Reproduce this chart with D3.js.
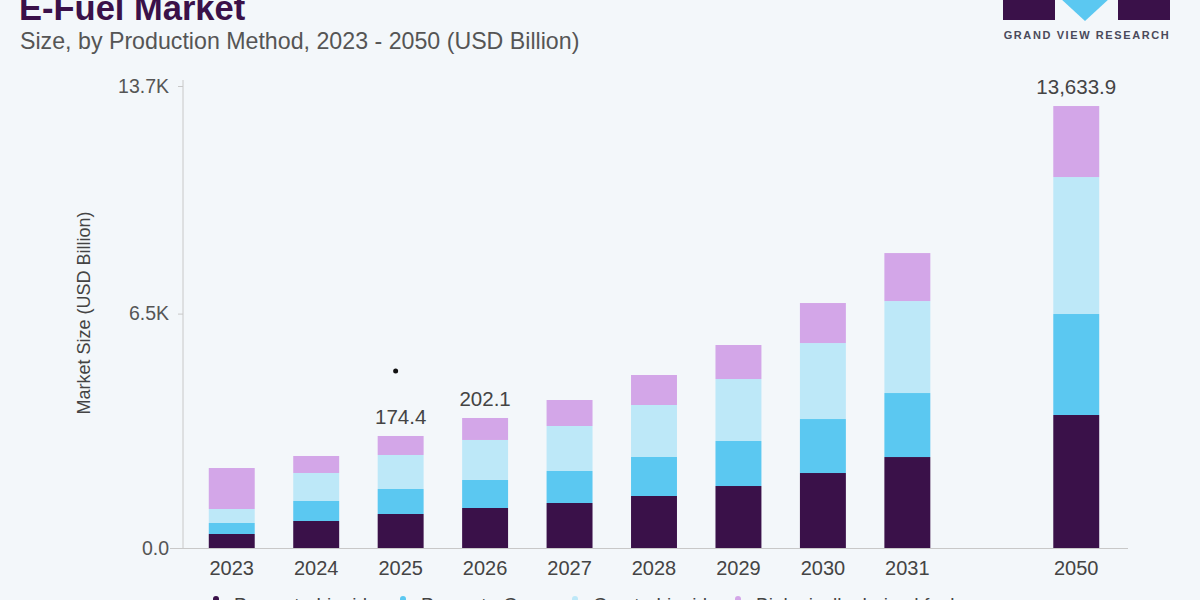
<!DOCTYPE html>
<html>
<head>
<meta charset="utf-8">
<script src="https://cdn.jsdelivr.net/npm/d3@7"></script>
<style>
  html, body { margin: 0; padding: 0; background: #f3f7fa; }
  svg { display: block; font-family: "Liberation Sans", Arial, sans-serif; }
</style>
</head>
<body>
<div id="chart"></div>
<script>
// data
const years = ['2023', '2024', '2025', '2026', '2027', '2028', '2029', '2030', '2031', '2050'];
const seriesNames = ['Power-to-Liquid', 'Power-to-Gas', 'Gas-to-Liquid', 'Biologically derived fuels'];
const powerToLiquid = [432, 833, 1049, 1234, 1388, 1604, 1912, 2313, 2806, 4102];
const powerToGas    = [339, 617, 771, 864, 987, 1203, 1388, 1665, 1974, 3115];
const gasToLiquid   = [432, 864, 1049, 1234, 1388, 1604, 1912, 2344, 2837, 4225];
const bioFuels      = [1264, 524, 586, 678, 802, 925, 1049, 1234, 1480, 2190];
const valueLabels = [{ year: '2025', text: '174.4' }, { year: '2026', text: '202.1' }, { year: '2050', text: '13,633.9' }];
const tickValues = [0, 7230, 14250];
const tickLabels = ['0.0', '6.5K', '13.7K'];
const colors = ['#3a1149', '#5bc8f1', '#bde8f8', '#d3a6e8'];

const width = 1200, height = 600;
const svg = d3.select('#chart').append('svg')
  .attr('width', width)
  .attr('height', height);

// slot domain with an empty gap before 2050
const slots = years.slice(0, 9).concat(['gap'], years.slice(9));

const xScale = d3.scaleBand()
  .domain(slots)
  .range([175, 1133])
  .paddingInner(0.456)
  .paddingOuter(0.4);

const yScale = d3.scaleLinear()
  .domain([0, 14250])
  .range([548, 86]);

// stacked data
const table = years.map((y, i) => ({
  year: y,
  'Power-to-Liquid': powerToLiquid[i],
  'Power-to-Gas': powerToGas[i],
  'Gas-to-Liquid': gasToLiquid[i],
  'Biologically derived fuels': bioFuels[i]
}));
const stacked = d3.stack().keys(seriesNames)(table);

// title
svg.append('text')
  .attr('x', 19).attr('y', 20)
  .style('font-size', '34.5px').style('font-weight', 'bold')
  .style('fill', '#3a1149')
  .text('E-Fuel Market');

svg.append('text')
  .attr('x', 20).attr('y', 49)
  .style('font-size', '23.2px')
  .style('fill', '#555')
  .text('Size, by Production Method, 2023 - 2050 (USD Billion)');

// logo
const logo = svg.append('g');
logo.append('rect').attr('x', 1003).attr('y', -5).attr('width', 52).attr('height', 25).attr('fill', '#3a1149');
logo.append('rect').attr('x', 1118).attr('y', -5).attr('width', 52).attr('height', 25).attr('fill', '#3a1149');
logo.append('path').attr('d', 'M1060,-2 L1110,-2 L1085,21 Z').attr('fill', '#5bc8f1');
logo.append('text')
  .attr('x', 1087).attr('y', 39)
  .attr('text-anchor', 'middle')
  .style('font-size', '11px').style('font-weight', 'bold')
  .style('letter-spacing', '1.6px')
  .style('fill', '#4a4a5a')
  .text('GRAND VIEW RESEARCH');

// y axis
const yAxis = d3.axisLeft(yScale)
  .tickValues(tickValues)
  .tickSize(5)
  .tickFormat((d, i) => tickLabels[i]);

const gy = svg.append('g')
  .attr('transform', 'translate(183,0)')
  .call(yAxis);
gy.select('.domain').attr('stroke', '#c8c8c8').attr('d', 'M0,80V548');
gy.selectAll('.tick line').attr('stroke', '#c8c8c8');
gy.selectAll('.tick text')
  .attr('x', -14)
  .style('font-size', '19.5px')
  .style('fill', '#555')
  .style('font-family', 'Liberation Sans, Arial, sans-serif');

svg.append('text')
  .attr('transform', 'translate(90,313)rotate(-90)')
  .attr('text-anchor', 'middle')
  .style('font-size', '18px')
  .style('fill', '#444')
  .text('Market Size (USD Billion)');

// baseline
svg.append('line')
  .attr('x1', 170).attr('x2', 1128)
  .attr('y1', yScale(0) + 0.5).attr('y2', yScale(0) + 0.5)
  .attr('stroke', '#c8c8c8');

// bars
svg.append('g')
  .selectAll('g')
  .data(stacked)
  .enter()
  .append('g')
    .attr('fill', (d, i) => colors[i])
  .selectAll('rect')
  .data(d => d)
  .enter()
  .append('rect')
    .attr('x', d => xScale(d.data.year))
    .attr('y', d => yScale(d[1]))
    .attr('width', xScale.bandwidth())
    .attr('height', d => yScale(d[0]) - yScale(d[1]));

// x labels
svg.append('g')
  .selectAll('text')
  .data(years)
  .enter()
  .append('text')
    .attr('x', d => xScale(d) + xScale.bandwidth() / 2)
    .attr('y', 575)
    .attr('text-anchor', 'middle')
    .style('font-size', '20px')
    .style('fill', '#444')
    .text(d => d);

// totals above selected bars
const totals = {};
table.forEach(r => { totals[r.year] = d3.sum(seriesNames, k => r[k]); });
svg.append('g')
  .selectAll('text')
  .data(valueLabels)
  .enter()
  .append('text')
    .attr('x', d => xScale(d.year) + xScale.bandwidth() / 2)
    .attr('y', d => yScale(totals[d.year]) - 12)
    .attr('text-anchor', 'middle')
    .style('font-size', '20.5px')
    .style('fill', '#444')
    .text(d => d.text);

// stray dot in the reference
svg.append('circle')
  .attr('cx', xScale('2025') + xScale.bandwidth() / 2 - 5)
  .attr('cy', 371)
  .attr('r', 2.5)
  .attr('fill', '#111');

// legend (cut off at the bottom)
const legendX = [216, 403, 575, 738];
const legend = svg.append('g')
  .selectAll('g')
  .data(seriesNames)
  .enter()
  .append('g')
    .attr('transform', (d, i) => `translate(${legendX[i]},607)`);
legend.append('circle')
  .attr('r', 3)
  .attr('cy', -8)
  .attr('fill', (d, i) => colors[i]);
legend.append('text')
  .attr('x', 18)
  .attr('y', 4)
  .style('font-size', '19px')
  .style('fill', '#444')
  .text(d => d);
</script>
</body>
</html>
